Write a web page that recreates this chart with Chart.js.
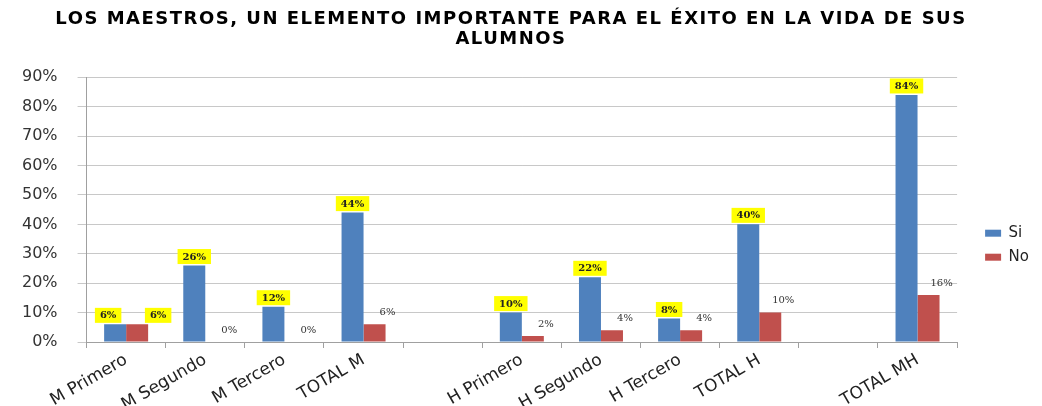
<!DOCTYPE html>
<html>
<head>
<meta charset="utf-8">
<script src="https://cdn.jsdelivr.net/npm/chart.js@4.4.1/dist/chart.umd.min.js"></script>
<style>
  html, body { margin: 0; padding: 0; background: #fff; }
  #wrap { width: 1042px; height: 406px; position: relative; }
</style>
</head>
<body>
<div id="wrap"><canvas id="chart"></canvas></div>
<script>
const categories = ['M Primero', 'M Segundo', 'M Tercero', 'TOTAL M', '', 'H Primero', 'H Segundo', 'H Tercero', 'TOTAL H', '', 'TOTAL MH'];
const siValues = [6, 26, 12, 44, null, 10, 22, 8, 40, null, 84];
const noValues = [6, 0, 0, 6, null, 2, 4, 4, 10, null, 16];
// the "No" label is highlighted only for the first group
const noHighlighted = [true, false, false, false, false, false, false, false, false, false, false];
const yTicks = [0, 10, 20, 30, 40, 50, 60, 70, 80, 90];

// data labels: yellow boxes over "Si", plain text beside "No"
const barLabels = {
  id: 'barLabels',
  afterInit(chart) {
    // wider title lettering, like the original
    const title = chart.titleBlock;
    const draw = title.draw.bind(title);
    title.draw = (...args) => {
      chart.ctx.save();
      chart.ctx.letterSpacing = '1.5px';
      draw(...args);
      chart.ctx.restore();
    };
  },
  afterLayout(chart) {
    // push the legend a bit closer to the right edge
    chart.legend.left += 19;
    chart.legend.right += 19;
  },
  afterDatasetsDraw(chart) {
    const ctx = chart.ctx;
    const si = chart.getDatasetMeta(0).data;
    const no = chart.getDatasetMeta(1).data;
    ctx.save();
    ctx.textAlign = 'center';
    ctx.textBaseline = 'middle';
    si.forEach((bar, i) => {
      if (siValues[i] == null) return;
      const shift = noHighlighted[i] ? -7 : 0;
      yellowLabel(ctx, siValues[i] + '%', bar.x + shift, bar.y - 9);
    });
    no.forEach((bar, i) => {
      if (noValues[i] == null) return;
      if (noHighlighted[i]) {
        yellowLabel(ctx, noValues[i] + '%', bar.x + 21, bar.y - 9);
      } else {
        ctx.font = '10px "DejaVu Serif"';
        ctx.fillStyle = '#333';
        ctx.fillText(noValues[i] + '%', bar.x + 13, bar.y - 12);
      }
    });
    ctx.restore();
  }
};

function yellowLabel(ctx, text, x, y) {
  ctx.font = 'bold 10px "DejaVu Serif"';
  const w = ctx.measureText(text).width + 10;
  ctx.fillStyle = '#ffff00';
  ctx.fillRect(x - w / 2, y - 7.5, w, 15);
  ctx.fillStyle = '#222';
  ctx.fillText(text, x, y + 0.5);
}

new Chart(document.getElementById('chart'), {
  type: 'bar',
  data: {
    labels: categories,
    datasets: [
      { label: 'Si', data: siValues, backgroundColor: '#4f81bd', barPercentage: 1, categoryPercentage: 0.556 },
      { label: 'No', data: noValues, backgroundColor: '#c0504d', barPercentage: 1, categoryPercentage: 0.556 }
    ]
  },
  options: {
    responsive: true,
    maintainAspectRatio: false,
    animation: false,
    layout: { padding: { left: 2, right: 22, bottom: 0 } },
    plugins: {
      title: {
        display: true,
        text: ['LOS MAESTROS, UN ELEMENTO IMPORTANTE PARA EL ÉXITO EN LA VIDA DE SUS', 'ALUMNOS'],
        color: '#000',
        font: { family: 'DejaVu Sans', size: 18, weight: 'bold', lineHeight: 1.12 },
        padding: { top: 9, bottom: 28 }
      },
      legend: {
        position: 'right',
        title: { display: true, text: '', padding: { top: 70, bottom: 0 } },
        labels: {
          color: '#222',
          font: { family: 'DejaVu Sans', size: 15 },
          boxWidth: 16,
          boxHeight: 7,
          padding: 9
        }
      },
      tooltip: { enabled: false }
    },
    scales: {
      x: {
        afterFit: scale => { scale.height = 64; },
        grid: { drawOnChartArea: false, drawTicks: true, tickLength: 6, color: '#a0a0a0' },
        border: { color: '#a0a0a0' },
        ticks: { color: '#222', font: { family: 'DejaVu Sans', size: 17 }, minRotation: 30, maxRotation: 30, padding: 2 }
      },
      y: {
        min: 0,
        max: 90,
        afterBuildTicks: axis => { axis.ticks = yTicks.map(v => ({ value: v })); },
        grid: { color: '#c8c8c8', tickLength: 9 },
        border: { color: '#a0a0a0' },
        ticks: { color: '#333', font: { family: 'DejaVu Sans', size: 16 }, padding: 20, callback: v => v + '%' }
      }
    }
  },
  plugins: [barLabels]
});
</script>
</body>
</html>
